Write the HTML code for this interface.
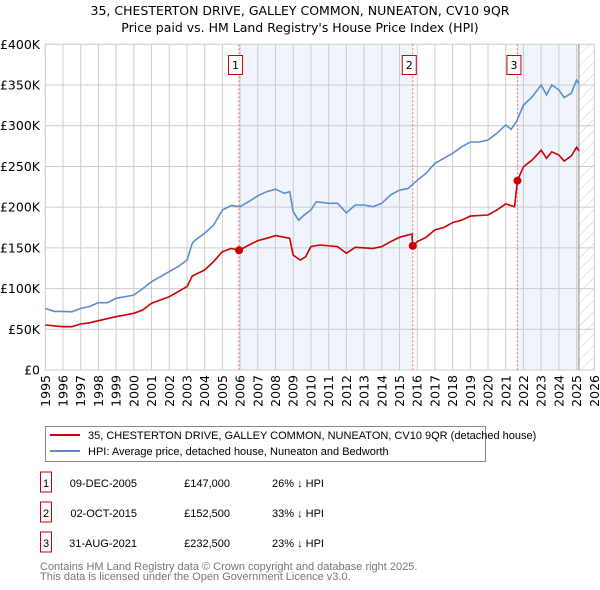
<!DOCTYPE html>
<html><head><meta charset="utf-8"><style>
body{margin:0;background:#fff;font-family:"Liberation Sans","DejaVu Sans",sans-serif;}
#wrap{position:relative;width:600px;height:590px;overflow:hidden}
svg text{font-family:"DejaVu Sans","Liberation Sans",sans-serif}
svg text.lib{font-family:"Liberation Sans",sans-serif}
</style></head><body>
<div id="wrap">
<svg id="chart" width="600" height="590"></svg>
</div>
<script>
const hpiYears=[1995,1995.5,1996,1996.5,1997,1997.5,1998,1998.5,1999,1999.5,2000,2000.5,2001,2001.5,2002,2002.5,2003,2003.3,2003.5,2004,2004.5,2005,2005.5,2006,2006.5,2007,2007.5,2008,2008.5,2008.8,2009,2009.3,2009.6,2010,2010.3,2011,2011.5,2012,2012.5,2013,2013.5,2014,2014.5,2015,2015.5,2016,2016.5,2017,2017.5,2018,2018.5,2019,2019.5,2020,2020.5,2021,2021.3,2021.6,2022,2022.5,2023,2023.3,2023.6,2024,2024.3,2024.7,2025,2025.13];
const hpiValues=[75.7,72,72,71.5,75.7,78,82.7,82.7,88,90,92,100,108.5,114.6,120.8,127,135,155.6,160,168,178,196.5,202,200.6,207,214,219,222,217,219,194.5,184,190,196.5,206.7,204.7,204.7,193,202.6,202.6,200.6,204.7,215,221,223,233,241.6,253.8,260,266,274,280,280,282.5,290.7,301,295.6,305,325.5,335.7,350,337.8,350,344,334.5,340,356,352];
const priceYears=[1995,1996,1996.5,1997,1997.5,1998,1999,2000,2000.5,2001,2002,2002.5,2003,2003.3,2004,2004.5,2005,2005.5,2005.94,2006.5,2007,2007.5,2008,2008.8,2009,2009.4,2009.7,2010,2010.5,2011.5,2012,2012.5,2013.5,2014,2014.5,2015,2015.7,2015.75,2016,2016.5,2017,2017.5,2018,2018.5,2019,2020,2020.5,2021,2021.5,2021.66,2022,2022.5,2023,2023.3,2023.6,2024,2024.3,2024.7,2025,2025.13];
const priceValues=[55.3,53.2,53.2,56.5,58,60.6,65.5,69.6,73.7,82,90,96.2,102.4,115.5,122.8,133,145.3,149.4,147,153.5,158.9,161.7,165,161.7,141,135,139,151.5,153.5,151.5,143.3,150.7,149.4,151.5,157.6,163,167,152.5,157.6,163,172,175,181,184,189,190.4,196.5,204,200.6,232.5,249.7,258,270,260,268,264,256.7,263,273.5,269];
const saleLabels=["1","2","3"];
const saleYears=[2005.94,2015.75,2021.66];
const salePrices=[147,152.5,232.5];
const saleDates=["09-DEC-2005","02-OCT-2015","31-AUG-2021"];
const salePriceText=["£147,000","£152,500","£232,500"];
const saleDiff=["26% ↓ HPI","33% ↓ HPI","23% ↓ HPI"];
const yTicks=[0,50,100,150,200,250,300,350,400];
const yTickLabels=["£0","£50K","£100K","£150K","£200K","£250K","£300K","£350K","£400K"];
const xTicks=[1995,1996,1997,1998,1999,2000,2001,2002,2003,2004,2005,2006,2007,2008,2009,2010,2011,2012,2013,2014,2015,2016,2017,2018,2019,2020,2021,2022,2023,2024,2025,2026];
const dataEnd=2025.13;

const NS="http://www.w3.org/2000/svg";
const svg=document.getElementById('chart');
const L=45.3,R=594.3,T=44.3,B=370;
const xS=y=>L+(y-1995)/(2026-1995)*(R-L);
const yS=v=>B-v/400*(B-T);
function mk(tag,attrs,parent){const e=document.createElementNS(NS,tag);for(const k in attrs)e.setAttribute(k,attrs[k]);(parent||svg).appendChild(e);return e;}
function txt(s,attrs,parent){const e=mk('text',attrs,parent);e.textContent=s;return e;}

const defs=mk('defs',{});
const pat=mk('pattern',{id:'hatch',width:8,height:8,patternUnits:'userSpaceOnUse',patternTransform:'rotate(45)'},defs);
mk('line',{x1:0,y1:0,x2:0,y2:8,stroke:'#ccc','stroke-width':1},pat);

let t=txt('35, CHESTERTON DRIVE, GALLEY COMMON, NUNEATON, CV10 9QR',{x:300,y:15,'text-anchor':'middle','font-size':12.5,fill:'#000'});


t=txt("Price paid vs. HM Land Registry's House Price Index (HPI)",{x:300,y:32,'text-anchor':'middle','font-size':12.5,fill:'#000'});



let r=mk('rect',{x:xS(saleYears[0]),y:T,width:xS(saleYears[1])-xS(saleYears[0]),height:B-T,fill:'#f0f4fc'});


r=mk('rect',{x:xS(saleYears[2]),y:T,width:xS(dataEnd)-xS(saleYears[2]),height:B-T,fill:'#f0f4fc'});


r=mk('rect',{x:xS(dataEnd),y:T,width:R-xS(dataEnd),height:B-T,fill:'url(#hatch)'});



const grid=mk('g',{stroke:'#cccccc','stroke-width':1});


yTicks.forEach((v,i)=>{
  mk('line',{x1:L,x2:R,y1:yS(v),y2:yS(v)},grid);
  const tl=txt(yTickLabels[i],{x:40,y:yS(v)+4.5,'text-anchor':'end','font-size':12.5,fill:'#000'});
  
  
});
xTicks.forEach(y=>{
  mk('line',{x1:xS(y),x2:xS(y),y1:T,y2:B},grid);
  const tl=txt(String(y),{x:0,y:0,'text-anchor':'end','font-size':12.5,fill:'#000',transform:`translate(${xS(y)+4.5},${B+5}) rotate(-90)`});
  
  
});
let el=mk('line',{x1:xS(dataEnd),x2:xS(dataEnd),y1:T,y2:B,stroke:'#888','stroke-width':1});



saleYears.forEach((y,i)=>{
  const l=mk('line',{x1:xS(y),x2:xS(y),y1:T,y2:B,stroke:'#ff6666','stroke-width':1,'stroke-dasharray':'2,2'});
  
  
});

function path(xs,vs){return xs.map((x,i)=>(i?'L':'M')+xS(x).toFixed(1)+','+yS(vs[i]).toFixed(1)).join('');}
el=mk('path',{d:path(hpiYears,hpiValues),fill:'none',stroke:'#5b8dd0','stroke-width':1.6});


el=mk('path',{d:path(priceYears,priceValues),fill:'none',stroke:'#cc0000','stroke-width':1.6});



saleYears.forEach((y,i)=>{
  const c=mk('circle',{cx:xS(y),cy:yS(salePrices[i]),r:4,fill:'#cc0000'});
  
  
  const g=mk('g',{});
  
  
  mk('rect',{x:xS(y)-10.5,y:55.5,width:14,height:19,fill:'#fff',stroke:'#cc0000','stroke-width':1},g);
  txt(saleLabels[i],{x:xS(y)-3.5,y:69,'text-anchor':'middle','font-size':11,fill:'#000'},g);
});

const lg=mk('g',{});


mk('rect',{x:45.5,y:426.5,width:440,height:35,fill:'#fff',stroke:'#888','stroke-width':1},lg);
mk('line',{x1:50,x2:80,y1:435,y2:435,stroke:'#cc0000','stroke-width':2},lg);
let le=txt('35, CHESTERTON DRIVE, GALLEY COMMON, NUNEATON, CV10 9QR (detached house)',{x:88,y:439,'font-size':11,fill:'#000','class':'lib'},lg);


mk('line',{x1:50,x2:80,y1:451,y2:451,stroke:'#5b8dd0','stroke-width':2},lg);
le=txt('HPI: Average price, detached house, Nuneaton and Bedworth',{x:88,y:455,'font-size':11,fill:'#000','class':'lib'},lg);



saleLabels.forEach((s,i)=>{
  const yy=483+i*30;
  const g=mk('g',{});
  
  
  mk('rect',{x:40.5,y:yy-11,width:11,height:20,fill:'#fff',stroke:'#cc0000','stroke-width':1},g);
  txt(s,{x:46,y:yy+4,'text-anchor':'middle','font-size':11,fill:'#000','class':'lib'},g);
  txt(saleDates[i],{x:137,y:yy+4,'text-anchor':'end','font-size':11,fill:'#000','class':'lib'},g);
  txt(salePriceText[i],{x:230,y:yy+4,'text-anchor':'end','font-size':11,fill:'#000','class':'lib'},g);
  txt(saleDiff[i],{x:272,y:yy+4,'font-size':11,fill:'#000','class':'lib'},g);
});
let f=txt('Contains HM Land Registry data © Crown copyright and database right 2025.',{x:40,y:570,'font-size':11,fill:'#777','class':'lib'});


f=txt('This data is licensed under the Open Government Licence v3.0.',{x:40,y:580,'font-size':11,fill:'#777','class':'lib'});


</script>
</body></html>
